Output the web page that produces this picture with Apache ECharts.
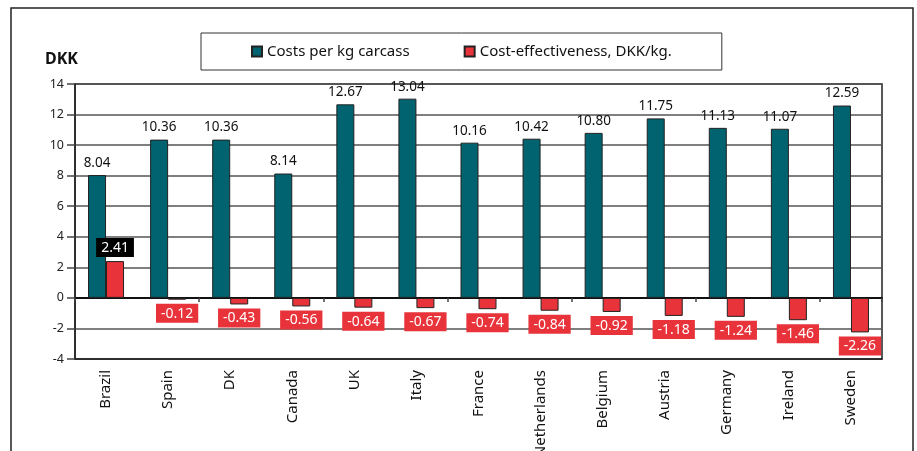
<!DOCTYPE html>
<html>
<head>
<meta charset="utf-8">
<script src="https://cdn.jsdelivr.net/npm/echarts@6/dist/echarts.min.js"></script>
<style>
  html, body { margin: 0; padding: 0; background: #fff; }
  #chart { width: 917px; height: 451px; }
</style>
</head>
<body>
<div id="chart"></div>
<script>
// countries on the x axis
const countries = ['Brazil', 'Spain', 'DK', 'Canada', 'UK', 'Italy', 'France',
  'Netherlands', 'Belgium', 'Austria', 'Germany', 'Ireland', 'Sweden']
// DKK per kg carcass
const costs = [8.04, 10.36, 10.36, 8.14, 12.67, 13.04, 10.16, 10.42, 10.80, 11.75, 11.13, 11.07, 12.59]
// cost-effectiveness, DKK/kg
const effectiveness = [2.41, -0.12, -0.43, -0.56, -0.64, -0.67, -0.74, -0.84, -0.92, -1.18, -1.24, -1.46, -2.26]
const yTicks = { min: -4, max: 14, step: 2 }

const font = 'Noto Sans'
const teal = '#00636f'
const red = '#e8333a'

const chart = echarts.init(document.getElementById('chart'))

const effData = effectiveness.map(v => ({
  value: v,
  label: v >= 0
    ? { position: 'top', backgroundColor: '#000' }
    : { position: 'bottom', backgroundColor: red }
}))

const option = {
  animation: false,
  textStyle: { fontFamily: font },
  graphic: [{
    type: 'rect',
    shape: { x: 11, y: 8, width: 902, height: 470 },
    style: { fill: 'none', stroke: '#222', lineWidth: 1.5 },
    silent: true
  }],
  title: {
    text: 'DKK',
    left: 40,
    top: 46,
    textStyle: { fontFamily: font, fontSize: 16, fontWeight: 'bold', color: '#111' }
  },
  legend: {
    left: 201,
    top: 33,
    padding: [11, 50],
    itemGap: 54,
    itemWidth: 10,
    itemHeight: 10,
    borderColor: '#333',
    borderWidth: 1,
    backgroundColor: '#fff',
    textStyle: { fontFamily: font, fontSize: 15, color: '#111' },
    data: [
      { name: 'Costs per kg carcass', icon: 'rect' },
      { name: 'Cost-effectiveness, DKK/kg.', icon: 'rect' }
    ]
  },
  grid: {
    left: 75,
    right: 35,
    top: 84,
    bottom: 92,
    outerBoundsMode: 'none',
    containLabel: false,
    show: true,
    borderColor: '#222',
    borderWidth: 1.5
  },
  xAxis: [{
    type: 'category',
    data: countries,
    position: 'bottom',
    axisLine: { onZero: false, lineStyle: { color: '#222', width: 1.5 } },
    axisTick: { show: false },
    axisLabel: {
      rotate: 90,
      margin: 11,
      fontFamily: font,
      fontSize: 15,
      color: '#111'
    }
  }, {
    type: 'category',
    data: countries,
    position: 'bottom',
    axisLine: { onZero: true, lineStyle: { color: '#111', width: 2 } },
    axisTick: { show: true, length: 4, lineStyle: { color: '#444', width: 1.5 } },
    axisLabel: { show: false }
  }],
  yAxis: {
    type: 'value',
    min: yTicks.min,
    max: yTicks.max,
    interval: yTicks.step,
    axisLine: { show: true, lineStyle: { color: '#222', width: 1.5 } },
    axisTick: { show: true, length: 8, lineStyle: { color: '#444', width: 1.5 } },
    axisLabel: { margin: 11, fontFamily: font, fontSize: 12.5, color: '#222' },
    splitLine: { lineStyle: { color: '#555', width: 1.5 } }
  },
  series: [{
    name: 'Costs per kg carcass',
    type: 'bar',
    xAxisIndex: 0,
    data: costs,
    barWidth: 18,
    barGap: '0%',
    itemStyle: { color: teal, borderColor: '#222', borderWidth: 1 },
    label: {
      show: true,
      position: 'top',
      distance: 5,
      fontFamily: font,
      fontSize: 13.5,
      color: '#111',
      formatter: p => p.value.toFixed(2)
    }
  }, {
    name: 'Cost-effectiveness, DKK/kg.',
    type: 'bar',
    xAxisIndex: 0,
    data: effData,
    barWidth: 18,
    barGap: '0%',
    itemStyle: { color: red, borderColor: '#222', borderWidth: 1 },
    label: {
      show: true,
      distance: 4,
      padding: [3, 5, 2, 5],
      fontFamily: font,
      fontSize: 14,
      color: '#fff',
      formatter: p => p.value.toFixed(2)
    }
  }]
}

chart.setOption(option)
</script>
</body>
</html>
